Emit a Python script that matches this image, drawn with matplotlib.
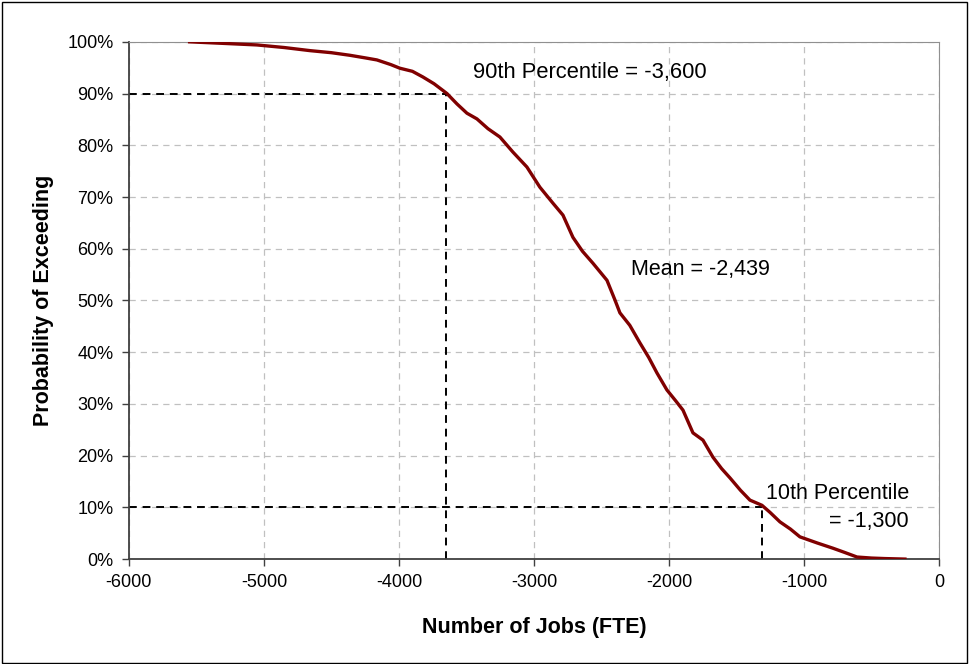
import numpy as np
import matplotlib.pyplot as plt
from matplotlib.patches import Rectangle
from matplotlib.ticker import FuncFormatter

plt.rcParams['font.family'] = ['Liberation Sans', 'DejaVu Sans']
plt.rcParams['axes.unicode_minus'] = False

# exceedance curve
jobs = [-5550, -5300, -5052, -4850, -4659, -4500, -4363, -4250, -4163, -4060,
        -3993, -3900, -3822, -3740, -3674, -3644, -3570, -3496, -3422, -3340,
        -3252, -3156, -3052, -2956, -2859, -2785, -2711, -2640, -2563, -2459,
        -2400, -2363, -2290, -2215, -2150, -2089, -2015, -1950, -1896, -1822,
        -1748, -1674, -1610, -1548, -1470, -1400, -1311, -1250, -1178, -1100,
        -1030, -900, -785, -700, -607, -500, -400, -252]
prob = [100.0, 99.7, 99.4, 98.9, 98.3, 97.9, 97.4, 96.9, 96.5, 95.6,
        94.9, 94.3, 93.2, 91.9, 90.6, 90.0, 88.0, 86.2, 85.1, 83.2,
        81.6, 78.7, 75.8, 71.9, 68.8, 66.5, 62.2, 59.5, 57.2, 53.9,
        50.1, 47.6, 45.2, 41.8, 39.0, 36.0, 32.7, 30.6, 28.8, 24.4,
        23.0, 19.7, 17.5, 15.7, 13.3, 11.4, 10.4, 9.0, 7.2, 5.8,
        4.3, 3.1, 2.1, 1.3, 0.4, 0.2, 0.1, 0.0]

p90_x = -3650
p10_x = -1310
xticks = [-6000, -5000, -4000, -3000, -2000, -1000, 0]
yticks = [0, 10, 20, 30, 40, 50, 60, 70, 80, 90, 100]

fig = plt.figure(figsize=(9.69, 6.64), dpi=100)
ax = fig.add_axes([0.133, 0.158, 0.836, 0.779])

ax.plot(jobs, prob, color='#800000', linewidth=2.4, zorder=3)

# percentile guide lines
dash = (0, (4, 3))
ax.plot([-6000, p90_x], [90, 90], color='black', linestyle=dash, linewidth=1.4, zorder=2)
ax.plot([p90_x, p90_x], [0, 90], color='black', linestyle=dash, linewidth=1.4, zorder=2)
ax.plot([-6000, p10_x], [10, 10], color='black', linestyle=dash, linewidth=1.4, zorder=2)
ax.plot([p10_x, p10_x], [0, 10], color='black', linestyle=dash, linewidth=1.4, zorder=2)

ax.text(-3452, 94.1, '90th Percentile = -3,600', fontsize=15.8, va='center', ha='left')
ax.text(-2281, 55.9, 'Mean = -2,439', fontsize=15.5, va='center', ha='left')
ax.text(-222, 10.0, '10th Percentile\n= -1,300', fontsize=15.5, va='center', ha='right',
        multialignment='right', linespacing=1.4)

ax.set_xlim(-6000, 0)
ax.set_ylim(0, 100)
ax.set_xticks(xticks)
ax.set_yticks(yticks)
ax.yaxis.set_major_formatter(FuncFormatter(lambda v, p: '%d%%' % v))
ax.tick_params(labelsize=13, direction='out', length=5, width=1, color='#404040', pad=6)
ax.grid(True, color='#c0c0c0', linestyle=(0, (5, 4)), linewidth=0.9)
ax.set_axisbelow(True)

for side in ['top', 'right']:
    ax.spines[side].set_color('#909090')
for side in ['left', 'bottom']:
    ax.spines[side].set_color('#404040')
    ax.spines[side].set_linewidth(1.3)

ax.set_xlabel('Number of Jobs (FTE)', fontsize=15.5, fontweight='bold')
ax.set_ylabel('Probability of Exceeding', fontsize=15.5, fontweight='bold')
ax.xaxis.set_label_coords(0.5, -0.112)
ax.yaxis.set_label_coords(-0.092, 0.5)

fig.patches.append(Rectangle((0.002, 0.002), 0.996, 0.995, transform=fig.transFigure,
                             fill=False, edgecolor='black', linewidth=1))

fig.savefig('out.png', dpi=100)
